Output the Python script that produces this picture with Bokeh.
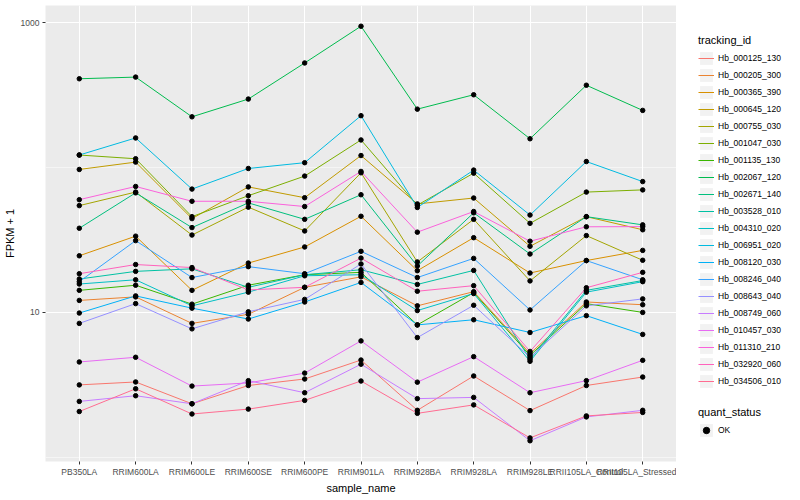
import math
from bokeh.plotting import figure
from bokeh.layouts import row
from bokeh.models import Range1d, FixedTicker, BasicTickFormatter, Legend, LegendItem, ColumnDataSource
from bokeh.embed import file_html
from bokeh.resources import INLINE

samples = ["PB350LA", "RRIM600LA", "RRIM600LE", "RRIM600SE", "RRIM600PE", "RRIM901LA",
           "RRIM928BA", "RRIM928LA", "RRIM928LE", "RRII105LA_Control", "RRII105LA_Stressed"]

tracking_ids = ["Hb_000125_130", "Hb_000205_300", "Hb_000365_390", "Hb_000645_120", "Hb_000755_030",
                "Hb_001047_030", "Hb_001135_130", "Hb_002067_120", "Hb_002671_140", "Hb_003528_010",
                "Hb_004310_020", "Hb_006951_020", "Hb_008120_030", "Hb_008246_040", "Hb_008643_040",
                "Hb_008749_060", "Hb_010457_030", "Hb_011310_210", "Hb_032920_060", "Hb_034506_010"]

Hb_000125_130 = [3.16, 3.31, 2.34, 3.13, 3.47, 4.69, 2.11, 3.64, 2.10, 3.13, 3.58]
Hb_000205_300 = [12.1, 12.8, 8.4, 9.7, 14.9, 17.6, 11.1, 13.9, 5.2, 11.8, 11.3]
Hb_000365_390 = [24.6, 33.6, 14.2, 21.9, 28.3, 46.1, 19.4, 32.8, 18.7, 22.8, 26.8]
Hb_000645_120 = [97, 109, 44.4, 73.5, 61.9, 121, 56.1, 61.6, 28.6, 45.8, 37.2]
Hb_000755_030 = [54.6, 67.7, 34.2, 53.3, 36.5, 92, 22.3, 43.9, 16.5, 33.9, 22.9]
Hb_001047_030 = [122, 115, 45.8, 63.9, 87.3, 155, 55, 91.5, 41.2, 67.7, 70.1]
Hb_001135_130 = [14.2, 15.4, 11.4, 15.4, 18.2, 18.9, 8.2, 13.7, 5.05, 11.5, 10.0]
Hb_002067_120 = [410, 421, 224, 297, 527, 945, 253, 318, 158, 370, 248]
Hb_002671_140 = [38.1, 66.9, 38.5, 57, 43.9, 64.9, 20.9, 48.7, 25.3, 45.8, 40.2]
Hb_003528_010 = [17.0, 19.2, 20.0, 14.9, 18.2, 19.7, 15.6, 19.5, 4.75, 14.2, 16.6]
Hb_004310_020 = [15.7, 16.8, 11.1, 13.8, 17.9, 18.2, 10.3, 13.5, 4.6, 13.8, 16.3]
Hb_006951_020 = [122, 160, 71, 98.5, 108, 228, 53, 96, 47, 110, 80]
Hb_008120_030 = [9.9, 13.0, 10.7, 9.0, 11.8, 16.1, 8.2, 8.9, 7.27, 9.5, 7.05]
Hb_008246_040 = [16.3, 31.3, 17.4, 20.7, 18.5, 26.4, 17.4, 23.6, 10.4, 22.8, 16.8]
Hb_008643_040 = [8.4, 11.5, 7.7, 10.1, 12.3, 21.6, 6.7, 11.2, 4.9, 11.1, 12.4]
Hb_008749_060 = [2.43, 2.66, 2.34, 3.38, 2.79, 4.39, 2.54, 2.59, 1.30, 1.90, 2.11]
Hb_010457_030 = [4.55, 4.9, 3.1, 3.26, 3.81, 6.36, 3.3, 4.95, 2.79, 3.38, 4.67]
Hb_011310_210 = [60, 74, 58.5, 58.5, 53.8, 94, 35.8, 49.7, 31, 39, 39.1]
Hb_032920_060 = [18.5, 21.4, 20.4, 14.3, 14.9, 23.7, 14.0, 15.3, 5.38, 14.8, 18.9]
Hb_034506_010 = [2.07, 2.97, 1.99, 2.15, 2.47, 3.36, 2.01, 2.30, 1.36, 1.93, 2.04]

series_values = [Hb_000125_130, Hb_000205_300, Hb_000365_390, Hb_000645_120, Hb_000755_030,
                 Hb_001047_030, Hb_001135_130, Hb_002067_120, Hb_002671_140, Hb_003528_010,
                 Hb_004310_020, Hb_006951_020, Hb_008120_030, Hb_008246_040, Hb_008643_040,
                 Hb_008749_060, Hb_010457_030, Hb_011310_210, Hb_032920_060, Hb_034506_010]

colors = ["#F8766D", "#EA8331", "#D89000", "#C09B00", "#A3A500", "#7CAE00", "#39B600", "#00BB4E",
          "#00BF7D", "#00C1A3", "#00BFC4", "#00BAE0", "#00B0F6", "#35A2FF", "#9590FF", "#C77CFF",
          "#E76BF3", "#FA62DB", "#FF62BC", "#FF6C91"]

quant_status = ["OK"]

y_ticks = [10, 1000]
y_minor = [1, 100]

FONT = "Liberation Sans"
H = 496
xs = list(range(1, len(samples) + 1))

all_vals = [v for s in series_values for v in s]
lo, hi = math.log10(min(all_vals)), math.log10(max(all_vals))
pad = (hi - lo) * 0.05

p = figure(width=676, height=H, output_backend="svg", toolbar_location=None,
           y_axis_type="log",
           x_range=Range1d(0.4, len(samples) + 0.6),
           y_range=Range1d(10 ** (lo - pad), 10 ** (hi + pad)),
           min_border_left=37, min_border_right=0, min_border_top=5, min_border_bottom=0)
p.background_fill_color = "#EBEBEB"
p.border_fill_color = "white"
p.outline_line_color = None

p.xgrid.grid_line_color = "white"
p.xgrid.grid_line_width = 1.1
p.ygrid.grid_line_color = "white"
p.ygrid.grid_line_width = 1.1
p.ygrid.minor_grid_line_color = "white"
p.ygrid.minor_grid_line_width = 0.5

p.xaxis.ticker = FixedTicker(ticks=xs)
p.xaxis.major_label_overrides = {i: s for i, s in zip(xs, samples)}
p.yaxis.ticker = FixedTicker(ticks=y_ticks, minor_ticks=y_minor)
p.yaxis.formatter = BasicTickFormatter(use_scientific=False)

for ax in (p.xaxis[0], p.yaxis[0]):
    ax.axis_line_color = None
    ax.major_tick_in = 0
    ax.major_tick_out = 3
    ax.major_tick_line_color = "#333333"
    ax.minor_tick_line_color = None
    ax.major_label_text_font = FONT
    ax.major_label_text_font_size = "8.5px"
    ax.major_label_text_color = "#4D4D4D"
    ax.major_label_standoff = 2
    ax.axis_label_text_font = FONT
    ax.axis_label_text_font_size = "11px"
    ax.axis_label_text_font_style = "normal"
    ax.axis_label_text_color = "black"
    ax.axis_label_standoff = 2
p.xaxis.axis_label = "sample_name"
p.yaxis.axis_label = "FPKM + 1"

for vals, col in zip(series_values, colors):
    src = ColumnDataSource(dict(x=xs, y=vals))
    p.line("x", "y", source=src, line_color=col, line_width=1.0)

for vals in series_values:
    src = ColumnDataSource(dict(x=xs, y=vals))
    p.scatter("x", "y", source=src, size=4.5, fill_color="black", line_color="black")

# legend panel (a separate, axis-less figure to the right)
lf = figure(width=108, height=H, output_backend="svg", toolbar_location=None,
            x_range=Range1d(0, 1), y_range=Range1d(0, 1),
            x_axis_location=None, y_axis_location=None,
            min_border_left=0, min_border_right=0, min_border_top=0, min_border_bottom=0)
lf.grid.visible = False
lf.outline_line_color = None
lf.background_fill_color = "white"
lf.border_fill_color = "white"

# key renderers: one point each, placed outside the visible range (only their legend glyphs show)
off = [5.0]
bg = lf.rect(x=off, y=off, width=1, height=1, fill_color="#F2F2F2", line_color=None)
key_rs = [lf.line(x=off, y=off, line_color=col, line_width=1.0) for col in colors]
ok_r = lf.scatter(x=off, y=off, size=4.5, fill_color="black", line_color="black")

common = dict(border_line_color=None, background_fill_alpha=0, padding=0, margin=0,
              glyph_height=16, glyph_width=16, label_height=16, spacing=1, label_standoff=4,
              title_standoff=4, title_text_font=FONT, title_text_font_size="11px",
              title_text_font_style="normal", title_text_color="black",
              label_text_font=FONT, label_text_font_size="8.5px", label_text_color="black")

items = [LegendItem(label=tid, renderers=[bg, r]) for tid, r in zip(tracking_ids, key_rs)]
leg1 = Legend(items=items, title="tracking_id", location=(22, 72), **common)
lf.add_layout(leg1)

leg2 = Legend(items=[LegendItem(label=quant_status[0], renderers=[bg, ok_r])], title="quant_status",
              location=(22, 23), **common)
lf.add_layout(leg2)

open("out.html", "w").write(file_html(row(p, lf), INLINE))
